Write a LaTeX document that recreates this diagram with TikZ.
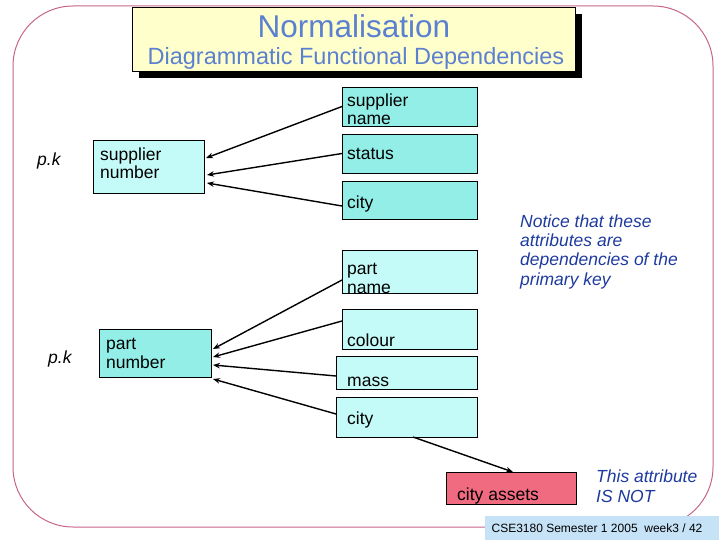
\documentclass[tikz,border=0pt]{standalone}
\usepackage{fontspec}
\setmainfont{Liberation Sans}
\usetikzlibrary{arrows.meta,shadows}
\definecolor{framepink}{HTML}{C8648A}
\definecolor{titleyellow}{HTML}{FFFFCC}
\definecolor{titleblue}{HTML}{5B80D0}
\definecolor{noteblue}{HTML}{1E3A9E}
\definecolor{deepcyan}{HTML}{93EEE8}
\definecolor{palecyan}{HTML}{C4FAF7}
\definecolor{assetred}{HTML}{F06A80}
\definecolor{footblue}{HTML}{C6E2F6}
\tikzset{
  attr/.style={draw=black, line width=0.8pt, anchor=north west, inner sep=0pt, outer sep=0pt},
  lbl/.style={anchor=base west, inner sep=0pt, align=left, font=\fontsize{17.5}{18.8}\selectfont},
  note/.style={lbl, text=noteblue, font=\fontsize{17.5}{19.3}\selectfont\itshape},
  dep/.style={-{Stealth[length=7pt,width=5.5pt]}, line width=1.4pt}
}
\begin{document}
\begin{tikzpicture}[x=1pt,y=-1pt]
\useasboundingbox (0,0) rectangle (720,540);
% slide frame
\draw[framepink, line width=1pt, rounded corners=60pt] (13,6) rectangle (713,527);
% title
\node[draw=black, line width=0.8pt, fill=titleyellow, anchor=north west, minimum width=443pt, minimum height=64pt,
      drop shadow={shadow xshift=7pt, shadow yshift=-7pt, opacity=1, fill=black}] (title) at (132,7) {};
\node[text=titleblue, font=\fontsize{31.5}{34}\selectfont] (heading) at (354,26) {Normalisation};
\node[text=titleblue, font=\fontsize{23.5}{26}\selectfont] (subheading) at (356,58) {Diagrammatic Functional Dependencies};

% supplier part
\node[attr, fill=deepcyan, minimum width=135pt, minimum height=39pt] (sname) at (342,87) {};
\node[attr, fill=deepcyan, minimum width=135pt, minimum height=39pt] (status) at (342,134) {};
\node[attr, fill=deepcyan, minimum width=135pt, minimum height=38pt] (scity) at (342,181) {};
\node[attr, fill=palecyan, minimum width=111pt, minimum height=53pt] (snum) at (93,140) {};
\node[lbl] (snametxt) at (347,125) {supplier\\name};
\node[lbl] (statustxt) at (347,160) {status};
\node[lbl] (scitytxt) at (347,208) {city};
\node[lbl] (snumtxt) at (100,179) {supplier\\number};
\node[lbl, font=\fontsize{17.5}{18.8}\selectfont\itshape] (pk1) at (37,166) {p.k};

\draw[dep] (sname.west) -- ([xshift=2pt,yshift=8.5pt]snum.east);
\draw[dep] (status.west) -- ([xshift=3pt,yshift=-8.5pt]snum.east);
\draw[dep] ([yshift=-6pt]scity.west) -- ([xshift=3pt,yshift=-16.5pt]snum.east);

% part part
\node[attr, fill=palecyan, minimum width=135pt, minimum height=43pt] (pname) at (342,250) {};
\node[attr, fill=palecyan, minimum width=135pt, minimum height=40pt] (colour) at (342,309) {};
\node[attr, fill=palecyan, minimum width=141pt, minimum height=33pt] (mass) at (336,356) {};
\node[attr, fill=palecyan, minimum width=141pt, minimum height=40pt] (pcity) at (336,397) {};
\node[attr, fill=deepcyan, minimum width=112pt, minimum height=48pt] (pnum) at (99,329) {};
\node[lbl] (pnametxt) at (347,293) {part\\name};
\node[lbl] (colourtxt) at (347,346) {colour};
\node[lbl] (masstxt) at (347,386) {mass};
\node[lbl] (pcitytxt) at (347,424) {city};
\node[lbl] (pnumtxt) at (106,368) {part\\number};
\node[lbl, font=\fontsize{17.5}{18.8}\selectfont\itshape] (pk2) at (48,363) {p.k};

\draw[dep] ([yshift=-8.5pt]pname.west) -- ([xshift=2pt,yshift=4pt]pnum.east);
\draw[dep] ([yshift=8pt]colour.west) -- ([xshift=2pt,yshift=-4pt]pnum.east);
\draw[dep] ([yshift=-3.5pt]mass.west) -- ([xshift=2pt,yshift=-12pt]pnum.east);
\draw[dep] ([yshift=3pt]pcity.west) -- ([xshift=2pt,yshift=-2pt]pnum.south east);

% the one that is not
\node[attr, fill=assetred, minimum width=130pt, minimum height=32pt] (assets) at (446,472) {};
\node[lbl] (assetstxt) at (457,500) {city assets};
\draw[dep] ([xshift=6.5pt]pcity.south) -- ([xshift=2pt]assets.north);

% notes
\node[note] (notice) at (520,285) {Notice that these\\attributes are\\dependencies of the\\primary key};
\node[note] (isnot) at (596,502) {This attribute\\IS NOT};

% footer
\fill[footblue] (485,516) rectangle (719,540);
\node[font=\fontsize{12}{14}\selectfont] (footer) at (597,528) {CSE3180 Semester 1 2005\ \ week3 / 42};
\end{tikzpicture}
\end{document}
